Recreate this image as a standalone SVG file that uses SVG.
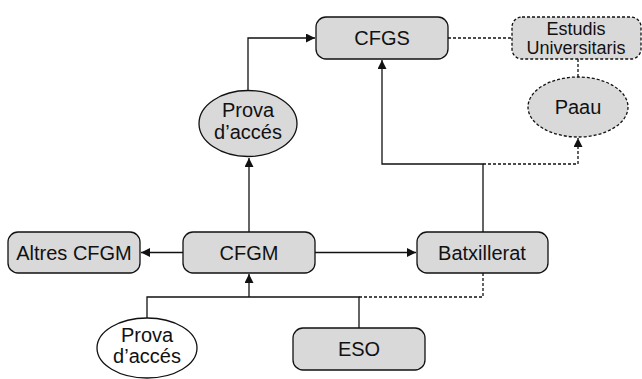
<svg xmlns="http://www.w3.org/2000/svg" width="642" height="379" viewBox="0 0 642 379">
<defs>
<style>
.box{fill:#d9d9d9;stroke:#111;stroke-width:1.3}
.dash{stroke-dasharray:3,2}
.w{fill:#fff}
.t{font-family:"Liberation Sans",Arial,sans-serif;font-size:20px;fill:#111;text-anchor:middle}
.s{font-size:18px}
.c{fill:none;stroke:#111;stroke-width:1.3}
</style>
<marker id="a" viewBox="0 0 10 10" refX="10" refY="5" markerWidth="9" markerHeight="9" markerUnits="userSpaceOnUse" orient="auto"><path d="M0,0L10,5L0,10z" fill="#111"/></marker>
</defs>
<g id="connectors">
<path class="c" d="M248,90V38H315" marker-end="url(#a)"/>
<path class="c" d="M249,232V158" marker-end="url(#a)"/>
<path class="c" d="M183,252.5H141" marker-end="url(#a)"/>
<path class="c" d="M315,252.5H416" marker-end="url(#a)"/>
<path class="c" d="M483,232V164H382V60" marker-end="url(#a)"/>
<path class="c dash" d="M483,164H578V138" marker-end="url(#a)"/>
<path class="c dash" d="M448,38H512"/>
<path class="c dash" d="M578,59V77"/>
<path class="c" d="M147,318V297H359V328"/>
<path class="c" d="M249,297V274" marker-end="url(#a)"/>
<path class="c dash" d="M359,297H483V273"/>
</g>
<g id="cfgs"><rect class="box" x="316" y="17" width="132" height="42" rx="10"/><text class="t" x="382" y="45">CFGS</text></g>
<g id="estudis"><rect class="box dash" x="512" y="17" width="129" height="42" rx="10"/><text class="t s" x="576" y="35">Estudis</text><text class="t s" x="576" y="54">Universitaris</text></g>
<g id="paau"><ellipse class="box dash" cx="578" cy="107" rx="50" ry="30"/><text class="t" x="578" y="114">Paau</text></g>
<g id="prova1"><ellipse class="box" cx="248" cy="123.5" rx="49" ry="33"/><text class="t" x="248" y="117">Prova</text><text class="t" x="248" y="139">d’accés</text></g>
<g id="altres"><rect class="box" x="8" y="232" width="132" height="41" rx="10"/><text class="t" x="74" y="260">Altres CFGM</text></g>
<g id="cfgm"><rect class="box" x="183" y="232" width="132" height="41" rx="10"/><text class="t" x="249" y="260">CFGM</text></g>
<g id="batx"><rect class="box" x="417" y="232" width="131" height="41" rx="10"/><text class="t" x="482" y="260">Batxillerat</text></g>
<g id="prova2"><ellipse class="box w" cx="147" cy="348" rx="50" ry="30"/><text class="t" x="147" y="342">Prova</text><text class="t" x="147" y="363">d’accés</text></g>
<g id="eso"><rect class="box" x="293" y="328" width="132" height="42" rx="10"/><text class="t" x="359" y="356">ESO</text></g>
</svg>
